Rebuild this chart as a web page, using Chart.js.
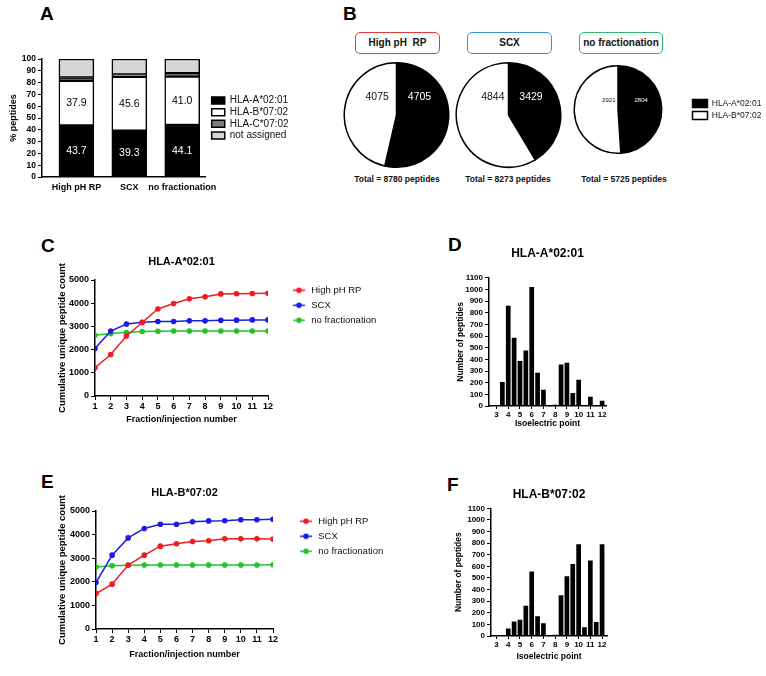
<!DOCTYPE html>
<html><head><meta charset="utf-8">
<script src="https://cdn.jsdelivr.net/npm/chart.js@4.4.1/dist/chart.umd.min.js"></script>
<style>
html,body{margin:0;padding:0;background:#fff;overflow:hidden;width:766px;height:676px;}
body{position:relative;font-family:'Liberation Sans',Arial,Helvetica,sans-serif;color:#111;}
canvas{position:absolute;}
.pl{position:absolute;font-weight:bold;font-size:19px;line-height:19px;color:#000;}
.box{position:absolute;box-sizing:border-box;height:22px;border:1.5px solid;border-radius:5px;font-weight:bold;font-size:10px;line-height:19px;text-align:center;color:#111;background:#fff;white-space:nowrap;}
.tot{position:absolute;font-weight:bold;font-size:8.5px;line-height:12px;height:12px;width:120px;text-align:center;color:#111;}
</style></head><body>
<div class="pl" style="left:40px;top:4px">A</div>
<div class="pl" style="left:343px;top:4px">B</div>
<div class="pl" style="left:41px;top:236px">C</div>
<div class="pl" style="left:448px;top:235px">D</div>
<div class="pl" style="left:41px;top:472px">E</div>
<div class="pl" style="left:447px;top:475px">F</div>
<div class="box" style="left:355px;top:32px;width:85px;border-color:#e2393f">High pH&nbsp; RP</div>
<div class="box" style="left:467px;top:32px;width:85px;border-color:#3b8fd0">SCX</div>
<div class="box" style="left:579px;top:32px;width:84px;border-color:#2fb46e">no fractionation</div>
<div class="tot" id="t0" style="left:337px;top:173px"></div>
<div class="tot" id="t1" style="left:448px;top:173px"></div>
<div class="tot" id="t2" style="left:564px;top:173px"></div>
<script>
// ---------------- DATA ----------------
const barGroups = ['High pH RP', 'SCX', 'no fractionation'];
const alleleNames = ['HLA-A*02:01', 'HLA-B*07:02', 'HLA-C*07:02', 'not assigned'];
const pctA0201 = [43.7, 39.3, 44.1];
const pctB0702 = [37.9, 45.6, 41.0];
const pctC0702 = [2.7, 2.0, 2.9];
const pctUnassigned = [15.7, 13.1, 12.0];

const pieAlleles = ['HLA-A*02:01', 'HLA-B*07:02'];
const pieA0201 = [4705, 3429, 2804];
const pieB0702 = [4075, 4844, 2921];
const pieTotals = [8780, 8273, 5725];

const seriesNames = ['High pH RP', 'SCX', 'no fractionation'];
const fractionNumbers = [1, 2, 3, 4, 5, 6, 7, 8, 9, 10, 11, 12];
const cumA_highpH = [1220, 1790, 2590, 3170, 3750, 3990, 4190, 4280, 4400, 4410, 4420, 4430];
const cumA_scx    = [2050, 2800, 3100, 3180, 3210, 3210, 3240, 3240, 3260, 3270, 3280, 3280];
const cumA_nofrac = [2620, 2690, 2740, 2780, 2790, 2800, 2800, 2800, 2800, 2800, 2800, 2804];
const cumB_highpH = [1500, 1900, 2710, 3130, 3510, 3610, 3710, 3740, 3820, 3820, 3820, 3810];
const cumB_scx    = [1970, 3130, 3860, 4260, 4440, 4440, 4540, 4580, 4590, 4630, 4630, 4650];
const cumB_nofrac = [2630, 2680, 2700, 2710, 2710, 2710, 2710, 2710, 2710, 2710, 2710, 2720];
const cumTicks = [0, 1000, 2000, 3000, 4000, 5000];

const pIbins = [3, 3.5, 4, 4.5, 5, 5.5, 6, 6.5, 7, 7.5, 8, 8.5, 9, 9.5, 10, 10.5, 11, 11.5, 12];
const pITicks = [3, 4, 5, 6, 7, 8, 9, 10, 11, 12];
const histTicks = [0, 100, 200, 300, 400, 500, 600, 700, 800, 900, 1000, 1100];
const histA0201 = [5, 205, 860, 585, 385, 475, 1020, 285, 140, 5, 10, 355, 370, 112, 225, 0, 80, 5, 45];
const histB0702 = [5, 5, 65, 125, 140, 260, 555, 170, 110, 5, 10, 350, 515, 620, 790, 75, 650, 120, 790];

// ---------------- SETUP ----------------
const FONT = "'Liberation Sans', Arial, Helvetica, sans-serif";
Chart.defaults.font.family = FONT;
Chart.defaults.color = '#111';
Chart.defaults.plugins.tooltip.enabled = false;
const RED = '#ee1c25', BLUE = '#1c1ce6', GREEN = '#22c42a';
const plain = v => String(v);

function mk(left, top, w, h) {
  const c = document.createElement('canvas');
  c.width = w; c.height = h;
  c.style.left = left + 'px'; c.style.top = top + 'px';
  c.style.width = w + 'px'; c.style.height = h + 'px';
  document.body.appendChild(c);
  return c;
}
const baseOpts = { responsive: false, animation: false, devicePixelRatio: 1, events: [] };
function gapScale(w) {
  return { type: 'linear', position: 'right', display: true, grid: { display: false, drawTicks: false },
    border: { display: false }, ticks: { display: false }, title: { display: false },
    afterFit(s) { s.width = w; } };
}
// fixes the legend box width (so the chart area ends where wanted)
const legendWidth = {
  id: 'legendWidth',
  beforeUpdate(chart, args, opts) {
    const lg = chart.legend;
    if (lg && !lg.__fw) {
      const orig = lg.fit;
      lg.fit = function () { orig.apply(this, arguments); if (opts && opts.width) this.width = opts.width; };
      lg.__fw = true;
    }
  }
};

// ---------------- PANEL A ----------------
const barValueLabels = {
  id: 'barValueLabels',
  afterDatasetsDraw(chart, args, opts) {
    const ctx = chart.ctx;
    ctx.save();
    ctx.font = opts.size + 'px ' + FONT;
    ctx.textAlign = 'center'; ctx.textBaseline = 'middle';
    opts.datasets.forEach((di, k) => {
      const meta = chart.getDatasetMeta(di);
      const ds = chart.data.datasets[di];
      meta.data.forEach((el, j) => {
        ctx.fillStyle = opts.colors[k];
        ctx.fillText(ds.data[j].y.toFixed(1), el.x, (el.y + el.base) / 2);
      });
    });
    ctx.restore();
  }
};
const aSeries = [pctA0201, pctB0702, pctC0702, pctUnassigned];
const aColors = ['#000000', '#ffffff', '#7f7f7f', '#d6d6d6'];
new Chart(mk(0, 40, 330, 160), {
  type: 'bar',
  data: { datasets: aSeries.map((arr, k) => ({
    label: alleleNames[k], data: arr.map((v, i) => ({ x: i, y: v })),
    backgroundColor: aColors[k], borderColor: '#000', borderWidth: 1.5, borderSkipped: false,
    barThickness: 35, xAxisID: 'x', yAxisID: 'y'
  })) },
  options: Object.assign({}, baseOpts, {
    layout: { padding: { top: 19, left: 0, right: 0, bottom: 0 } },
    scales: {
      x: { type: 'linear', stacked: true, min: -0.65, max: 2.43, offset: false,
        afterBuildTicks(ax) { ax.ticks = barGroups.map((_, i) => ({ value: i })); },
        afterFit(s) { s.height = 23; },
        grid: { display: false, drawTicks: false, offset: false },
        border: { display: true, color: '#000', width: 1.5 },
        ticks: { autoSkip: false, maxRotation: 0, padding: 5, color: '#000', font: { size: 9, weight: 'bold' },
          callback: v => barGroups[v] !== undefined ? barGroups[v] : '' } },
      y: { type: 'linear', stacked: true, min: 0, max: 100,
        ticks: { stepSize: 10, autoSkip: false, padding: 2, color: '#000', font: { size: 8.5, weight: 'bold' }, callback: plain },
        grid: { drawOnChartArea: false, drawTicks: true, tickLength: 4, color: '#000', lineWidth: 1 },
        border: { color: '#000', width: 1.5 },
        title: { display: true, text: '% peptides', color: '#000', font: { size: 9, weight: 'bold' }, padding: { top: 8, bottom: 0 } },
        afterFit(s) { s.width = 42; } },
      gap: gapScale(5)
    },
    plugins: {
      legend: { position: 'right', fullSize: false, align: 'center',
        labels: { boxWidth: 13, boxHeight: 7, padding: 1.7, color: '#111', font: { size: 10 } } },
      legendWidth: { width: 120 },
      tooltip: { enabled: false },
      barValueLabels: { datasets: [0, 1], colors: ['#fff', '#000'], size: 10.5 }
    }
  }),
  plugins: [barValueLabels, legendWidth]
});

// ---------------- PANEL B ----------------
const pieLabels = {
  id: 'pieLabels',
  afterDatasetsDraw(chart, args, opts) {
    const meta = chart.getDatasetMeta(0);
    const ds = chart.data.datasets[0];
    const ctx = chart.ctx;
    ctx.save();
    ctx.font = opts.size + 'px ' + FONT;
    ctx.textAlign = 'center'; ctx.textBaseline = 'middle';
    meta.data.forEach((arc, j) => {
      const r = arc.outerRadius;
      ctx.fillStyle = j === 0 ? '#fff' : '#111';
      ctx.fillText(String(ds.data[j]), arc.x + opts.dx[j] * r, arc.y + opts.dy * r);
    });
    ctx.restore();
  }
};
function pieChart(idx, left, top, w, h, withLegend, lblOpts) {
  return new Chart(mk(left, top, w, h), {
    type: 'pie',
    data: { labels: pieAlleles, datasets: [{
      data: [pieA0201[idx], pieB0702[idx]],
      backgroundColor: ['#000', '#fff'], borderColor: '#000', borderWidth: 1.5,
      hoverOffset: 0, offset: 0, hoverBorderWidth: 1.5
    }] },
    options: Object.assign({}, baseOpts, {
      layout: { padding: 1 },
      plugins: {
        legend: withLegend ? { display: true, position: 'right',
          labels: { boxWidth: 15, boxHeight: 8, padding: 3.5, color: '#111', font: { size: 8.5 } } } : { display: false },
        legendWidth: { width: withLegend ? 76 : 0 },
        tooltip: { enabled: false },
        pieLabels: lblOpts
      }
    }),
    plugins: [pieLabels, legendWidth]
  });
}
pieChart(0, 342, 61, 109, 108, false, { dx: [0.44, -0.37], dy: -0.35, size: 10.5 });
pieChart(1, 454, 61, 109, 108, false, { dx: [0.43, -0.30], dy: -0.35, size: 10.5 });
pieChart(2, 546, 64, 220, 91, true, { dx: [0.53, -0.21], dy: -0.21, size: 6 });
pieTotals.forEach((t, i) => { document.getElementById('t' + i).textContent = 'Total = ' + t + ' peptides'; });

// ---------------- PANELS C / E ----------------
function legendIcon(color) {
  const c = document.createElement('canvas'); c.width = 12; c.height = 7;
  const g = c.getContext('2d');
  g.strokeStyle = color; g.lineWidth = 1.5;
  g.beginPath(); g.moveTo(0, 3.5); g.lineTo(12, 3.5); g.stroke();
  g.fillStyle = color; g.beginPath(); g.arc(6, 3.5, 2.8, 0, Math.PI * 2); g.fill();
  return c;
}
function lineDs(label, arr, color) {
  return { label, data: arr.map((v, i) => ({ x: fractionNumbers[i], y: v })),
    borderColor: color, backgroundColor: color, pointBackgroundColor: color, pointBorderColor: color,
    pointRadius: 2.8, pointBorderWidth: 0, borderWidth: 1.5, tension: 0, xAxisID: 'x', yAxisID: 'y' };
}
function cumChart(left, top, w, h, title, series, cfg) {
  return new Chart(mk(left, top, w, h), {
    type: 'line',
    data: { datasets: [lineDs(seriesNames[0], series[0], RED), lineDs(seriesNames[1], series[1], BLUE), lineDs(seriesNames[2], series[2], GREEN)] },
    options: Object.assign({}, baseOpts, {
      layout: { padding: 0 },
      scales: {
        x: { type: 'linear', min: 1, max: 12, offset: false,
          afterBuildTicks(ax) { ax.ticks = fractionNumbers.map(v => ({ value: v })); },
          afterFit(s) { s.height = cfg.xh; },
          ticks: { autoSkip: false, maxRotation: 0, padding: 1, color: '#000', font: { size: 9, weight: 'bold' }, callback: plain },
          grid: { drawOnChartArea: false, drawTicks: true, tickLength: 4, color: '#000', lineWidth: 1 },
          border: { color: '#000', width: 1.5 },
          title: { display: true, text: 'Fraction/injection number', color: '#000', font: { size: 9, weight: 'bold' }, padding: { top: 0, bottom: 0 } } },
        y: { type: 'linear', min: 0, max: 5000,
          afterBuildTicks(ax) { ax.ticks = cumTicks.map(v => ({ value: v })); },
          afterFit(s) { s.width = cfg.yw; },
          ticks: { autoSkip: false, padding: 2, color: '#000', font: { size: 9, weight: 'bold' }, callback: plain },
          grid: { drawOnChartArea: false, drawTicks: true, tickLength: 4, color: '#000', lineWidth: 1 },
          border: { color: '#000', width: 1.5 },
          title: { display: true, text: 'Cumulative unique peptide count', color: '#000', font: { size: 9.5, weight: 'bold' }, padding: { top: 7, bottom: 0 } } },
        gap: gapScale(cfg.gap)
      },
      plugins: {
        title: { display: true, text: title, fullSize: false, color: '#000', font: { size: 11, weight: 'bold' }, padding: { top: 5.5, bottom: 11.3 } },
        legend: { position: 'right', fullSize: false, align: 'start',
          labels: { usePointStyle: true, pointStyleWidth: 15, padding: 5.5, color: '#111', font: { size: 9.5 },
            generateLabels: chart => chart.data.datasets.map((ds, i) => ({
              text: ds.label, pointStyle: legendIcon(ds.borderColor), fillStyle: ds.borderColor,
              strokeStyle: ds.borderColor, lineWidth: 0, hidden: false, datasetIndex: i, fontColor: '#111' })) } },
        legendWidth: { width: cfg.lw },
        tooltip: { enabled: false }
      }
    }),
    plugins: [legendWidth]
  });
}
cumChart(50, 250, 336, 175, 'HLA-A*02:01', [cumA_highpH, cumA_scx, cumA_nofrac], { xh: 29, yw: 45, gap: 18, lw: 100 });
cumChart(50, 481, 343, 179, 'HLA-B*07:02', [cumB_highpH, cumB_scx, cumB_nofrac], { xh: 31, yw: 46, gap: 20, lw: 100 });

// ---------------- PANELS D / F ----------------
function histChart(left, top, w, h, title, arr, cfg) {
  return new Chart(mk(left, top, w, h), {
    type: 'bar',
    data: { datasets: [{ label: title, data: arr.map((v, i) => ({ x: pIbins[i], y: v })),
      backgroundColor: '#000', borderWidth: 0, barPercentage: 0.8, categoryPercentage: 1, xAxisID: 'x', yAxisID: 'y' }] },
    options: Object.assign({}, baseOpts, {
      layout: { padding: { top: 0, left: 0, bottom: 0, right: cfg.padR } },
      scales: {
        x: { type: 'linear', min: cfg.xmin, max: cfg.xmax, offset: false,
          afterBuildTicks(ax) { ax.ticks = pITicks.map(v => ({ value: v })); },
          afterFit(s) { s.height = cfg.xh; },
          ticks: { autoSkip: false, maxRotation: 0, padding: 1, color: '#000', font: { size: 8, weight: 'bold' }, callback: plain },
          grid: { drawOnChartArea: false, drawTicks: true, tickLength: 3, color: '#000', lineWidth: 1, offset: false },
          border: { color: '#000', width: 1.5 },
          title: { display: true, text: 'Isoelectric point', color: '#000', font: { size: 8.5, weight: 'bold' }, padding: { top: 0, bottom: 0 } } },
        y: { type: 'linear', min: 0, max: 1100,
          afterBuildTicks(ax) { ax.ticks = histTicks.map(v => ({ value: v })); },
          ticks: { autoSkip: false, padding: 2, color: '#000', font: { size: 8, weight: 'bold' }, callback: plain },
          grid: { drawOnChartArea: false, drawTicks: true, tickLength: 4, color: '#000', lineWidth: 1 },
          border: { color: '#000', width: 1.5 },
          afterFit(s) { s.width = cfg.yw; },
          title: { display: true, text: 'Number of peptides', color: '#000', font: { size: 8.5, weight: 'bold' }, padding: { top: cfg.ytp, bottom: 0 } } }
      },
      plugins: {
        title: { display: true, text: title, fullSize: false, color: '#000', font: { size: 12, weight: 'bold' }, padding: cfg.tpad },
        legend: { display: false },
        tooltip: { enabled: false }
      }
    })
  });
}
histChart(450, 238, 170, 191, 'HLA-A*02:01', histA0201, { padR: 14, xmin: 2.36, xmax: 12.33, xh: 23, yw: 39, ytp: 5.6, tpad: { top: 8.1, bottom: 17.2 } });
histChart(450, 480, 170, 182, 'HLA-B*07:02', histB0702, { padR: 13, xmin: 2.53, xmax: 12.42, xh: 26, yw: 41, ytp: 3.9, tpad: { top: 7.8, bottom: 6.1 } });
</script>
</body></html>
